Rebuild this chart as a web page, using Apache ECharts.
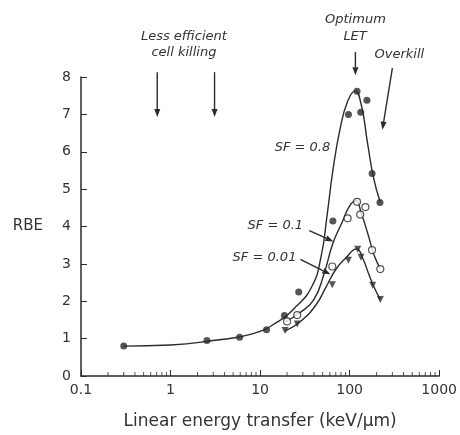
<!DOCTYPE html>
<html>
<head>
<meta charset="utf-8">
<script src="https://cdn.jsdelivr.net/npm/echarts@6/dist/echarts.min.js"></script>
<style>html,body{margin:0;padding:0;background:#fff;}#c{width:460px;height:435px;}</style>
</head>
<body>
<div id="c"></div>
<script>
// ---- data ----
const xTicks = [0.1, 1, 10, 100, 1000];
const yTicks = [0, 1, 2, 3, 4, 5, 6, 7, 8];
const minorTicks = [0.2,0.3,0.4,0.5,0.6,0.7,0.8,0.9, 2,3,4,5,6,7,8,9, 20,30,40,50,60,70,80,90, 200,300,400,500,600,700,800,900];

// measured points
const sf08Points = [[0.3,0.8],[2.55,0.95],[5.9,1.04],[11.8,1.24],[18.7,1.62],[27,2.25],[65,4.15],[97,7.0],[121,7.62],[133,7.06],[156,7.38],[178,5.42],[218,4.64]];
const sf01Points = [[20,1.46],[26,1.63],[64,2.93],[95,4.22],[121,4.66],[131,4.32],[150,4.52],[178,3.37],[220,2.86]];
const sf001Points = [[19,1.22],[26,1.39],[64,2.44],[97,3.1],[123,3.39],[134,3.18],[181,2.43],[220,2.05]];

// fitted curves (traced)
const sf08Curve = [[0.3,0.8],[1,0.83],[3,0.95],[8,1.12],[15,1.42],[25,1.85],[38,2.4],[48,3.2],[56,4.3],[65,5.5],[78,6.6],[95,7.35],[115,7.63],[135,7.25],[158,6.25],[185,5.3],[219,4.66]];
const sf01Curve = [[19,1.45],[28,1.7],[40,2.05],[52,2.75],[65,3.55],[82,4.1],[100,4.55],[117,4.7],[135,4.35],[160,3.8],[190,3.2],[220,2.88]];
const sf001Curve = [[19,1.2],[28,1.45],[42,1.9],[55,2.4],[70,2.85],[90,3.15],[120,3.4],[140,3.15],[165,2.7],[190,2.35],[220,2.05]];

// annotations (data coordinates)
const annTexts = [
  {t:'Less efficient', x:1.41, y:9.07},
  {t:'cell killing', x:1.41, y:8.64},
  {t:'Optimum', x:116, y:9.53},
  {t:'LET', x:115, y:9.07},
  {t:'Overkill', x:359, y:8.59},
  {t:'SF = 0.8', x:29.7, y:6.11},
  {t:'SF = 0.1', x:14.8, y:4.03},
  {t:'SF = 0.01', x:11.2, y:3.17}
];
const annArrows = [
  {from:[0.71,8.13], to:[0.71,6.93]},
  {from:[3.1,8.13], to:[3.1,6.93]},
  {from:[116,8.67], to:[116,8.05]},
  {from:[300,8.24], to:[232,6.59]},
  {from:[35.5,3.89], to:[65.8,3.6]},
  {from:[28.2,3.12], to:[61,2.72]}
];

const ink = '#2b2b2b';
const font = 'DejaVu Sans';

const chart = echarts.init(document.getElementById('c'), null, {renderer:'canvas'});

function curve(data){
  return {type:'line', data:data, smooth:0.5, showSymbol:false, symbol:'none',
          lineStyle:{color:ink, width:1.4}, z:2, silent:true};
}
function pts(data, opts){
  return Object.assign({type:'scatter', data:data, symbolSize:7, z:5, silent:true}, opts);
}

chart.setOption({
  animation:false,
  backgroundColor:'#fff',
  grid:{left:81, right:20, top:77, bottom:58},
  xAxis:{
    type:'log', logBase:10, min:xTicks[0], max:xTicks[xTicks.length-1],
    name:'Linear energy transfer (keV/\u00b5m)', nameLocation:'middle', nameGap:37,
    nameTextStyle:{fontFamily:font, fontSize:17, color:'#333'},
    axisLine:{lineStyle:{color:ink, width:1.5}},
    axisTick:{inside:true, length:6, lineStyle:{color:ink}},
    axisLabel:{fontFamily:font, fontSize:14, color:'#333', margin:7, formatter:function(v){ return String(v); }},
    splitLine:{show:false}
  },
  yAxis:{
    type:'value', min:yTicks[0], max:yTicks[yTicks.length-1], interval:1,
    name:'RBE', nameLocation:'middle', nameRotate:0, nameGap:38,
    nameTextStyle:{fontFamily:font, fontSize:15, color:'#333'},
    axisLine:{show:true, lineStyle:{color:ink, width:1.5}},
    axisTick:{show:true, inside:true, length:6, lineStyle:{color:ink}},
    axisLabel:{fontFamily:font, fontSize:14, color:'#333', margin:10},
    splitLine:{show:false}
  },
  series:[
    {type:'scatter', data:minorTicks.map(v=>[v, yTicks[0]]), symbol:'rect', symbolSize:[1,4], symbolOffset:[0,-2],
     itemStyle:{color:ink}, clip:false, silent:true, z:1},
    curve(sf08Curve), curve(sf01Curve), curve(sf001Curve),
    pts(sf08Points, {symbol:'circle', itemStyle:{color:ink}}),
    pts(sf01Points, {symbol:'circle', itemStyle:{color:'#fff', borderColor:ink, borderWidth:1.2}}),
    pts(sf001Points, {symbol:'triangle', symbolRotate:180, symbolSize:7, itemStyle:{color:ink}})
  ]
});

function px(x, y){ return chart.convertToPixel({xAxisIndex:0, yAxisIndex:0}, [x, y]); }
function arrow(a, b){
  const p1 = px(a[0], a[1]), p2 = px(b[0], b[1]);
  const dx = p2[0]-p1[0], dy = p2[1]-p1[1], len = Math.hypot(dx, dy);
  const ux = dx/len, uy = dy/len, hl = 8, hw = 3;
  const base = [p2[0]-ux*hl, p2[1]-uy*hl];
  return [
    {type:'line', shape:{x1:p1[0], y1:p1[1], x2:base[0], y2:base[1]}, style:{stroke:ink, lineWidth:1.4}, silent:true},
    {type:'polygon', shape:{points:[p2, [base[0]-uy*hw, base[1]+ux*hw], [base[0]+uy*hw, base[1]-ux*hw]]}, style:{fill:ink}, silent:true}
  ];
}
const g = [];
annTexts.forEach(a => {
  const p = px(a.x, a.y);
  g.push({type:'text', x:p[0], y:p[1], silent:true,
    style:{text:a.t, fill:'#333', font:'italic 13px "' + font + '"', textAlign:'center', textVerticalAlign:'middle'}});
});
annArrows.forEach(a => { arrow(a.from, a.to).forEach(e => g.push(e)); });
chart.setOption({graphic:g});
</script>
</body>
</html>
